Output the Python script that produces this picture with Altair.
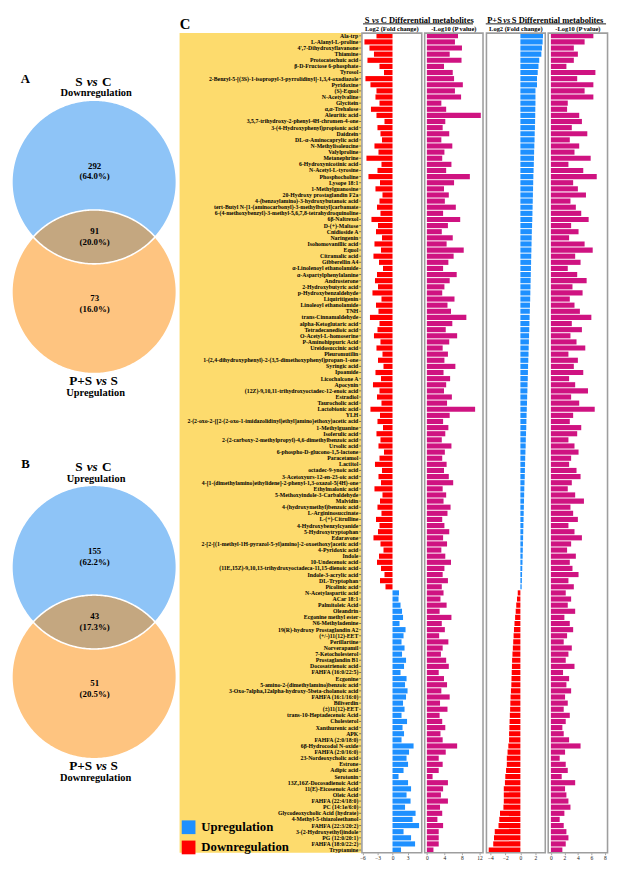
import altair as alt
import numpy as np
import pandas as pd

# ---------------- data ----------------
names = [
    "Ala-trp", "L-Alanyl-L-proline", "4',7-Dihydroxyflavanone", "Thiamine", "Protocatechuic acid",
    "β-D-Fructose 6-phosphate", "Tyrosol", "2-Benzyl-5-[(3S)-1-isopropyl-3-pyrrolidinyl]-1,3,4-oxadiazole",
    "Pyridoxine", "(S)-Equol", "N-Acetylvaline", "Glycitein", "α,α-Trehalose", "Aleuritic acid",
    "3,5,7-trihydroxy-2-phenyl-4H-chromen-4-one", "3-(4-Hydroxyphenyl)propionic acid", "Daidzein",
    "DL-α-Aminocaprylic acid", "N-Methylisoleucine", "Valylproline", "Metanephrine",
    "6-Hydroxynicotinic acid", "N-Acetyl-L-tyrosine", "Phosphocholine", "Lysope 18:1",
    "1-Methylguanosine", "20-Hydroxy prostaglandin F2a", "4-(benzoylamino)-3-hydroxybutanoic acid",
    "tert-Butyl N-[1-(aminocarbonyl)-3-methylbutyl]carbamate",
    "6-(4-methoxybenzyl)-3-methyl-5,6,7,8-tetrahydroquinoline", "6β-Naltrexol", "D-(+)-Maltose",
    "Cnidioside A", "Naringenin", "Isohomovanillic acid", "Equol", "Citramalic acid", "Gibberellin A4",
    "α-Linolenoyl ethanolamide", "α-Aspartylphenylalanine", "Androsterone", "2-Hydroxybutyric acid",
    "p-Hydroxybenzaldehyde", "Liquiritigenin", "Linoleoyl ethanolamide", "TNH", "trans-Cinnamaldehyde",
    "alpha-Ketoglutaric acid", "Tetradecanedioic acid", "O-Acetyl-L-homoserine", "P-Aminohippuric Acid",
    "Ureidosuccinic acid", "Pleuromutilin",
    "1-(2,4-dihydroxyphenyl)-2-(3,5-dimethoxyphenyl)propan-1-one", "Syringic acid", "Ipoamide",
    "Licochalcone A", "Apocynin", "(12Z)-9,10,11-trihydroxyoctadec-12-enoic acid", "Estradiol",
    "Taurocholic acid", "Lactobionic acid", "YLH",
    "2-(2-oxo-2-{[2-(2-oxo-1-imidazolidinyl)ethyl]amino}ethoxy)acetic acid", "1-Methylguanine",
    "Isoferulic acid", "2-(2-carboxy-2-methylpropyl)-4,6-dimethylbenzoic acid", "Ursolic acid",
    "6-phospho-D-glucono-1,5-lactone", "Paracetamol", "Lactitol", "octadec-9-ynoic acid",
    "3-Acetoxyurs-12-en-23-oic acid", "4-[1-(dimethylamino)ethylidene]-2-phenyl-1,3-oxazol-5(4H)-one",
    "Ethylmalonic acid", "5-Methoxyindole-3-Carbaldehyde", "Malvidin", "4-(hydroxymethyl)benzoic acid",
    "L-Argininosuccinate", "L-(+)-Citrulline", "4-Hydroxybenzylcyanide", "5-Hydroxytryptophan",
    "Edaravone", "2-[2-[(1-methyl-1H-pyrazol-5-yl)amino]-2-oxoethoxy]acetic acid", "4-Pyridoxic acid",
    "Indole", "10-Undecenoic acid", "(11E,15Z)-9,10,13-trihydroxyoctadeca-11,15-dienoic acid",
    "Indole-3-acrylic acid", "DL-Tryptophan", "Picolinic acid", "N-Acetylaspartic acid", "ACar 18:1",
    "Palmitoleic Acid", "Oleandrin", "Ecgonine methyl ester", "N6-Methyladenine",
    "19(R)-hydroxy Prostaglandin A2", "(+/-)11(12)-EET", "Perillartine", "Norverapamil",
    "7-Ketocholesterol", "Prostaglandin B1", "Docosatrienoic acid", "FAHFA (16:0/22:5)", "Ecgonine",
    "5-amino-2-(dimethylamino)benzoic acid", "3-Oxo-7alpha,12alpha-hydroxy-5beta-cholanoic acid",
    "FAHFA (16:1/16:0)", "Biliverdin", "(±)11(12)-EET", "trans-10-Heptadecenoic Acid", "Cholesterol",
    "Xanthurenic acid", "APK", "FAHFA (2:0/18:0)", "6β-Hydrocodol N-oxide", "FAHFA (2:0/16:0)",
    "23-Nordeoxycholic acid", "Estrone", "Adipic acid", "Serotonin", "13Z,16Z-Docosadienoic Acid",
    "11(E)-Eicosenoic Acid", "Oleic Acid", "FAHFA (22:4/18:0)", "PC (14:1e/6:0)",
    "Glycodeoxycholic Acid (hydrate)", "4-Methyl-5-thiazoleethanol", "FAHFA (22:3/20:2)",
    "3-(2-Hydroxyethyl)indole", "PG (12:0/20:1)", "FAHFA (18:0/22:2)", "Tryptamine",
]

sc_log2fc = [
    -3.2, -5.6, -4.6, -3.7, -5.0, -2.6, -1.7, -5.4, -4.4, -3.2, -3.4, -2.6, -4.3, -3.2,
    -1.6, -3.0, -2.4, -2.1, -3.6, -2.8, -5.2, -2.2, -3.0, -4.8, -2.5, -3.4, -2.0, -2.6, -3.1, -2.4,
    -4.2, -2.9, -3.3, -2.1, -3.6, -2.3, -3.8, -2.7, -1.9, -3.1, -3.5, -2.9, -4.0, -2.2, -3.3, -2.8, -4.5, -2.6, -3.0, -3.7,
    -2.4, -3.2, -2.0, -2.9, -1.8, -3.4, -2.3, -3.9, -2.6, -3.1, -2.2, -4.4, -2.5, -3.0, -1.9, -3.2, -2.4, -2.8, -1.7, -2.6,
    -3.5, -2.1, -2.8, -2.3, -3.6, -2.0, -2.5, -3.0, -2.2, -3.3, -2.6, -2.9, -3.8, -2.4, -1.8, -2.7, -3.1, -2.3, -1.6, -2.5, -1.4,
    1.3, 1.2, 1.6, 1.9, 2.1, 1.4, 2.6, 2.2, 1.8, 2.4, 1.9, 2.7, 2.3, 1.6, 2.8, 2.5, 3.0, 2.7, 2.1, 2.4, 1.8, 2.9, 2.0,
    2.3, 1.8, 4.2, 3.3, 2.8, 3.1, 2.2, 1.2, 3.1, 3.7, 2.8, 3.6, 2.5, 4.6, 4.0, 5.3, 2.2, 3.7, 4.5, 1.7,
]
sc_neglog10p = [
    7.1, 6.4, 8.0, 5.2, 7.9, 3.9, 5.9, 6.2, 8.2, 6.4, 7.8, 3.3, 4.4, 12.3,
    4.2, 3.6, 5.1, 3.3, 5.8, 4.0, 3.5, 5.6, 4.4, 9.8, 6.2, 3.9, 5.0, 4.1, 6.6, 3.7,
    7.6, 4.8, 3.4, 5.9, 4.5, 8.4, 6.1, 4.9, 3.7, 6.8, 5.2, 4.0, 3.5, 6.3, 4.7, 5.5, 9.0, 5.8, 4.3, 6.9,
    5.1, 3.6, 4.8, 4.0, 6.5, 3.8, 5.3, 4.4, 3.9, 5.7, 4.6, 11.0, 5.2, 3.7, 4.9, 4.2, 3.4, 5.6, 4.1, 3.5,
    4.5, 3.9, 5.0, 6.0, 3.6, 4.4, 3.8, 5.4, 4.7, 3.5, 4.0, 5.1, 3.7, 4.6, 3.3, 4.2, 5.5, 4.0, 3.6, 4.8, 3.4,
    3.8, 3.1, 4.5, 2.9, 5.6, 3.4, 4.1, 2.8, 4.9, 3.6, 3.2, 4.4, 5.0, 2.7, 3.9, 4.6, 3.3, 5.2, 3.0, 4.7, 2.9, 3.5, 4.2,
    3.1, 3.6, 6.9, 4.3, 2.7, 3.6, 2.7, 1.3, 4.8, 3.7, 3.2, 4.8, 3.0, 3.5, 2.4, 3.7, 2.7, 2.7, 2.7, 1.5,
]
ps_log2fc = [
    3.0, 2.95, 2.86, 2.78, 2.5, 2.4, 2.3, 2.2, 2.2, 2.0, 2.0, 2.0, 1.98, 1.97,
    1.95, 1.93, 1.9, 1.88, 1.85, 1.82, 1.8, 1.78, 1.75, 1.72, 1.7, 1.68, 1.66, 1.64, 1.62, 1.6,
    1.58, 1.55, 1.52, 1.5, 1.48, 1.46, 1.44, 1.42, 1.4, 1.38, 1.36, 1.34, 1.32, 1.3, 1.27, 1.25, 1.22, 1.2, 1.18, 1.15,
    1.13, 1.1, 1.08, 1.05, 1.02, 1.0, 0.98, 0.95, 0.93, 0.9, 0.88, 0.85, 0.82, 0.8, 0.78, 0.75, 0.72, 0.7, 0.67, 0.64,
    0.62, 0.6, 0.58, 0.55, 0.52, 0.5, 0.48, 0.46, 0.44, 0.42, 0.4, 0.38, 0.36, 0.34, 0.32, 0.3, 0.28, 0.25, 0.22, 0.2, 0.17,
    -0.35, -0.45, -0.55, -0.62, -0.7, -0.78, -0.85, -0.9, -0.95, -1.0, -1.05, -1.1, -1.12, -1.15, -1.18, -1.2, -1.25, -1.3, -1.33, -1.36, -1.4, -1.43, -1.46,
    -1.5, -1.5, -1.6, -1.7, -1.8, -1.8, -1.9, -2.0, -2.05, -2.2, -2.2, -2.2, -2.25, -2.7, -2.8, -2.9, -3.4, -3.5, -3.6, -4.2,
]
ps_neglog10p = [
    6.3, 5.0, 3.4, 4.0, 3.4, 2.3, 6.6, 3.9, 6.3, 5.0, 6.3, 2.5, 2.4, 4.2,
    4.6, 3.1, 5.4, 2.8, 4.2, 3.5, 5.9, 2.6, 4.8, 6.8, 3.3, 4.0, 5.2, 2.9, 3.7, 4.5,
    5.6, 3.0, 4.1, 2.7, 5.0, 6.2, 3.6, 4.4, 2.5, 3.9, 5.3, 3.2, 4.7, 2.8, 3.5, 4.3, 6.0, 3.1, 4.6, 2.9,
    3.8, 5.1, 2.6, 4.0, 3.4, 4.8, 2.7, 3.6, 5.5, 3.0, 4.2, 6.5, 3.3, 2.8, 4.5, 3.9, 2.6, 3.5, 4.1, 3.0,
    2.7, 3.8, 4.4, 3.1, 2.5, 3.6, 4.9, 2.9, 3.3, 4.0, 2.6, 3.5, 4.6, 3.0, 2.4, 3.7, 2.8, 3.2, 4.1, 2.6, 3.4,
    2.2, 3.0, 2.5, 3.6, 2.0, 2.8, 3.3, 2.4, 1.9, 3.1, 2.6, 2.2, 3.5, 1.8, 2.7, 2.3, 3.0, 2.1, 2.5, 1.9, 2.8, 2.2, 1.7,
    1.9, 2.7, 4.4, 2.1, 1.3, 2.2, 2.5, 1.6, 3.6, 2.1, 2.3, 2.6, 2.9, 2.0, 1.3, 1.9, 2.3, 2.6, 2.2, 1.7,
]

venn_panels = ["A", "B"]
venn_top_set = [("S", "C"), ("S", "C")]
venn_top_dir = ["Downregulation", "Upregulation"]
venn_bottom_set = [("P+S", "S"), ("P+S", "S")]
venn_bottom_dir = ["Upregulation", "Downregulation"]
venn_counts = [[292, 91, 73], [155, 43, 51]]
venn_pcts = [["64.0%", "20.0%", "16.0%"], ["62.2%", "17.3%", "20.5%"]]
legend_labels = ["Upregulation", "Downregulation"]

# ---------------- style / layout ----------------
FONT = "Liberation Serif"
RED, BLUE, PINK = "#FF0000", "#1E90FF", "#CF1381"
VBLUE, VORANGE, VLENS = "#8EC4F7", "#FEC480", "#C4A780"
YELLOW = "#FDDB6D"
FRAME = "#9E9E9E"

SX, SY = 0.987, 0.982
HDR = 17            # header zone inside each plot area
HB = 836            # height of the bar zone
H = HDR + HB        # full plot height
VW, LW = 169, 182.5
PW = [61, 59.5, 60, 60.5]
SP = 3
PI, PO = 0.16, 0.02
VOFF = 0.0          # Venn vertical offset in px

# ---------------- Venn diagrams ----------------
CX, CY1, CY2, R = 86, 172, 286, 85
VENN_DY = [0, 400]

fills, outlines, texts = [], [], []
for i, panel in enumerate(venn_panels):
    dy = VENN_DY[i]
    for key, cy, col in [("top", CY1 + dy, "blue"), ("bot", CY2 + dy, "orange")]:
        th = np.linspace(np.pi, 0, 241)
        xs = CX + R * np.cos(th)
        hs = R * np.sin(th)
        fills.append(pd.DataFrame({"x": xs, "y": cy - hs, "y2": cy + hs, "k": f"{panel}{key}", "col": col}))
        th2 = np.linspace(0, 2 * np.pi, 361)
        outlines.append(pd.DataFrame({"x": CX + R * np.cos(th2), "y": cy + R * np.sin(th2),
                                      "o": np.arange(361), "k": f"{panel}{key}"}))
    a = np.sqrt(R ** 2 - ((CY2 - CY1) / 2) ** 2)
    th = np.linspace(np.pi, 0, 241)
    xs = CX + a * np.cos(th)
    s = np.sqrt(np.clip(R ** 2 - (xs - CX) ** 2, 0, None))
    fills.append(pd.DataFrame({"x": xs, "y": CY2 + dy - s, "y2": CY1 + dy + s, "k": f"{panel}lens", "col": "lens"}))

    ts, tc = venn_top_set[i]
    bs, bc = venn_bottom_set[i]
    texts += [
        dict(x=15, y=65 + dy, t=panel, fs=13, kind="c"),
        dict(x=74, y=68.3 + dy, t=ts, fs=13.5, kind="r"),
        dict(x=84, y=68.3 + dy, t="vs", fs=13.5, kind="i"),
        dict(x=94, y=68.3 + dy, t=tc, fs=13.5, kind="l"),
        dict(x=88, y=80 + dy, t=venn_top_dir[i], fs=10.6, kind="c"),
        dict(x=84, y=379 + dy, t=bs, fs=13.5, kind="r"),
        dict(x=93.5, y=379 + dy, t="vs", fs=13.5, kind="i"),
        dict(x=103, y=379 + dy, t=bc, fs=13.5, kind="l"),
        dict(x=87.5, y=391 + dy, t=venn_bottom_dir[i], fs=10.6, kind="c"),
    ]
    for cy, c, p in zip([155, 223.3, 292.7], venn_counts[i], venn_pcts[i]):
        texts.append(dict(x=86.5, y=cy + dy, t=str(c), fs=9, kind="c"))
        texts.append(dict(x=86.5, y=cy + 11.3 + dy, t=f"({p})", fs=9, kind="c"))

fill_df = pd.concat(fills, ignore_index=True)
out_df = pd.concat(outlines, ignore_index=True)
txt_df = pd.DataFrame(texts)

XV = alt.X("x:Q", scale=alt.Scale(domain=[0, VW / SX], nice=False, zero=False), axis=None)
YV = alt.Y("y:Q", scale=alt.Scale(domain=[-VOFF / SY, (H - VOFF) / SY], reverse=True, nice=False, zero=False),
           axis=None)

venn_layers = []
for col, color in [("blue", VBLUE), ("orange", VORANGE), ("lens", VLENS)]:
    venn_layers.append(
        alt.Chart(fill_df[fill_df.col == col]).mark_area(color=color, opacity=1, interpolate="linear")
        .encode(x=XV, y=YV, y2="y2:Q", detail="k:N")
    )
venn_layers.append(
    alt.Chart(out_df).mark_line(color="white", strokeWidth=1.6)
    .encode(x=XV, y=YV, order="o:Q", detail="k:N")
)
for kind, align, style in [("c", "center", "normal"), ("r", "right", "normal"),
                           ("l", "left", "normal"), ("i", "center", "italic")]:
    venn_layers.append(
        alt.Chart(txt_df[txt_df.kind == kind]).mark_text(
            align=align, baseline="middle", font=FONT, fontWeight="bold", fontStyle=style, color="black")
        .encode(x=XV, y=YV, text="t:N", size=alt.Size("fs:Q", scale=None, legend=None))
    )
venn = alt.layer(*venn_layers).properties(width=VW, height=H, view=alt.ViewBackground(stroke="transparent"))

# ---------------- labels column ----------------
df = pd.DataFrame({"name": names, "sc_fc": sc_log2fc, "sc_p": sc_neglog10p,
                   "ps_fc": ps_log2fc, "ps_p": ps_neglog10p})
df["dir"] = np.where(df.sc_fc > 0, legend_labels[0], legend_labels[1])

YB = alt.Y("name:N", sort=names, axis=None,
           scale=alt.Scale(type="band", range=[HDR, H], paddingInner=PI, paddingOuter=PO))

one = pd.DataFrame({"t": [""]})


def txt(text, x, y, size, align="center", style="normal", baseline="top"):
    return alt.Chart(pd.DataFrame({"t": [text]})).mark_text(
        align=align, baseline=baseline, font=FONT, fontSize=size, fontWeight="bold",
        fontStyle=style, color="black").encode(text="t:N", x=alt.value(x), y=alt.value(y))


def hline(x1, x2, y):
    return alt.Chart(one).mark_rule(color="black", strokeWidth=0.9).encode(
        x=alt.value(x1), x2=alt.value(x2), y=alt.value(y))


def frame(w):
    return alt.Chart(one).mark_rect(fillOpacity=0, stroke=FRAME, strokeWidth=1.6).encode(
        x=alt.value(0), x2=alt.value(w), y=alt.value(HDR), y2=alt.value(H))


yellow = alt.Chart(one).mark_rect(color=YELLOW).encode(
    x=alt.value(0), x2=alt.value(LW + SP), y=alt.value(HDR), y2=alt.value(H))
ticks = alt.Chart(df).mark_rule(color="#333333", strokeWidth=0.6).encode(
    y=YB, x=alt.value(LW + 0.6), x2=alt.value(LW + SP))
labels = alt.Chart(df).mark_text(align="right", baseline="middle", font=FONT, fontSize=5.9,
                                 fontWeight="bold", color="black").encode(
    y=YB, text="name:N", x=alt.value(LW - 0.2))
label_chart = alt.layer(yellow, ticks, labels, txt("C", 0.2, 1.0, 15, align="left")).properties(
    width=LW, height=H, view=alt.ViewBackground(stroke="transparent"))

# ---------------- bar panels ----------------


def xaxis(vals):
    return alt.Axis(values=vals, grid=False, domain=False, ticks=True, tickSize=2, tickColor="#666666",
                    tickWidth=0.6, labelFont=FONT, labelFontSize=5.6, labelColor="#222222",
                    labelPadding=0.5, labelFlush=False)


VIEW = alt.ViewBackground(stroke="transparent")
SUB_Y, HEAD_Y, LINE_Y = 10.0, 0.0, 7.6

bars1 = alt.Chart(df).mark_bar().encode(
    y=YB,
    x=alt.X("sc_fc:Q", title=None, scale=alt.Scale(domain=[-6.1, 5.83], nice=False, zero=False),
            axis=xaxis([-6, -3, 0, 3])),
    x2=alt.datum(0),
    color=alt.Color("dir:N", scale=alt.Scale(domain=legend_labels, range=[BLUE, RED]),
                    legend=alt.Legend(orient="none", legendX=-183.8, legendY=H - 33, title=None,
                                      symbolType="square", symbolSize=196, symbolStrokeWidth=0,
                                      symbolOpacity=1, labelFont=FONT, labelFontSize=13,
                                      labelFontWeight="bold", labelColor="black", labelOffset=6,
                                      rowPadding=6.6, padding=0, labelLimit=300)),
)
p1 = alt.layer(
    bars1, frame(PW[0]),
    txt("S", 7.7, HEAD_Y, 8.6, align="right"),
    txt("vs", 13.9, HEAD_Y, 8.6, style="italic"),
    txt("C Differential metabolites", 19.2, HEAD_Y, 8.6, align="left"),
    hline(1.1, 113.3, LINE_Y),
    txt("Log2 (Fold change)", PW[0] / 2, SUB_Y, 6.6),
).properties(width=PW[0], height=H, view=VIEW)

bars2 = alt.Chart(df).mark_bar(color=PINK).encode(
    y=YB,
    x=alt.X("sc_p:Q", title=None, scale=alt.Scale(domain=[-0.5, 12.8], nice=False, zero=False),
            axis=xaxis([0, 4, 8, 12])),
    x2=alt.datum(0),
)
p2 = alt.layer(bars2, frame(PW[1]), txt("-Log10 (P value)", PW[1] / 2, SUB_Y, 6.6)).properties(
    width=PW[1], height=H, view=VIEW)

bars3 = alt.Chart(df).mark_bar().encode(
    y=YB,
    x=alt.X("ps_fc:Q", title=None, scale=alt.Scale(domain=[-4.5, 3.3], nice=False, zero=False),
            axis=xaxis([-4, -2, 0, 2])),
    x2=alt.datum(0),
    color=alt.condition("datum.ps_fc > 0", alt.value(BLUE), alt.value(RED)),
)
p3 = alt.layer(
    bars3, frame(PW[2]),
    txt("P+S", 15.7, HEAD_Y, 8.6, align="right"),
    txt("vs", 20.6, HEAD_Y, 8.6, style="italic"),
    txt("S Differential metabolites", 25.9, HEAD_Y, 8.6, align="left"),
    hline(-0.7, 122, LINE_Y),
    txt("Log2 (Fold change)", PW[2] / 2, SUB_Y, 6.6),
).properties(width=PW[2], height=H, view=VIEW)

bars4 = alt.Chart(df).mark_bar(color=PINK).encode(
    y=YB,
    x=alt.X("ps_p:Q", title=None, scale=alt.Scale(domain=[-0.4, 8.4], nice=False, zero=False),
            axis=xaxis([0, 2, 4, 6, 8])),
    x2=alt.datum(0),
)
p4 = alt.layer(bars4, frame(PW[3]), txt("-Log10 (P value)", PW[3] / 2, SUB_Y, 6.6)).properties(
    width=PW[3], height=H, view=VIEW)

PAD = {"left": 0, "top": 0, "right": 0, "bottom": 0}
chart = alt.hconcat(venn, label_chart, p1, p2, p3, p4, spacing=SP, bounds="flush").resolve_scale(
    color="independent", y="independent", x="independent"
).properties(padding=PAD).configure_view(strokeWidth=0)

chart.save("out.html", embed_options={"renderer": "svg", "actions": False})
